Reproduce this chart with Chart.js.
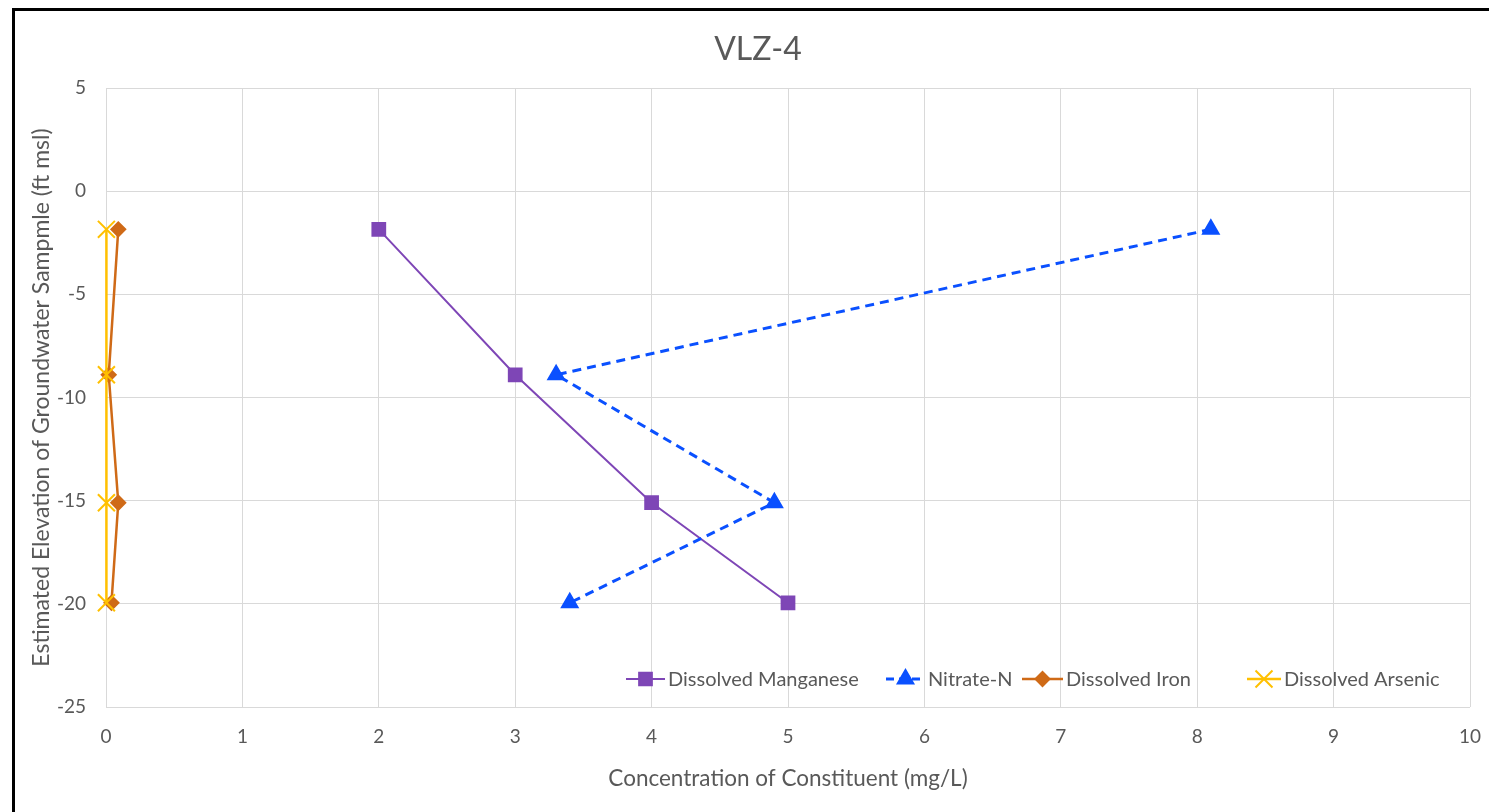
<!DOCTYPE html>
<html>
<head>
<meta charset="utf-8">
<title>VLZ-4</title>
<script src="https://cdn.jsdelivr.net/npm/chart.js@4.4.1/dist/chart.umd.min.js"></script>
<style>
  html,body{margin:0;padding:0;background:#fff;overflow:hidden;}
  #wrap{position:relative;width:1489px;height:812px;}
  #frame{position:absolute;left:12px;top:8px;width:2000px;height:2000px;border:3px solid #000;box-sizing:border-box;pointer-events:none;}
  canvas{position:absolute;left:0;top:0;}
</style>
</head>
<body>
<div id="wrap">
  <canvas id="chartVLZ" width="1489" height="812"></canvas>
  <div id="frame"></div>
</div>
<script>
// Datos (elevacion en ft msl, concentracion en mg/L)
const elevaciones = [-1.85, -8.9, -15.1, -19.95];
const manganeso = [2, 3, 4, 5];
const nitrato = [8.1, 3.3, 4.9, 3.4];
const hierro = [0.09, 0.02, 0.09, 0.04];
const arsenico = [0.003, 0.003, 0.003, 0.003];
const xTicks = [0,1,2,3,4,5,6,7,8,9,10];
const yTicks = [5,0,-5,-10,-15,-20,-25];

const FONT = 'Lato, "Open Sans", sans-serif';
const GRIS = '#595959';

function puntos(xs){ return xs.map((x,i)=>({x:x,y:elevaciones[i]})); }

// order: el menor se dibuja encima (arsenico sobre hierro, como en Excel)
const series = [
  {label:'Dissolved Manganese', data:puntos(manganeso), color:'#7E46B6', style:'rect', radius:9, width:2, dash:[], order:3},
  {label:'Nitrate-N', data:puntos(nitrato), color:'#0A50FF', style:'triangle', radius:9, width:3, dash:[9,6], order:2},
  {label:'Dissolved Iron', data:puntos(hierro), color:'#CF6A17', style:'rectRot', radius:7, width:2.5, dash:[], order:1},
  {label:'Dissolved Arsenic', data:puntos(arsenico), color:'#FFC000', style:'crossRot', radius:12, width:2.5, dash:[], order:0}
];

// posiciones de la leyenda (linea corta + marcador, como Excel)
const leyendaX = [[626,665],[886,925],[1022,1063],[1247,1281]];

const ctx = document.getElementById('chartVLZ');
new Chart(ctx,{
  type:'scatter',
  data:{
    datasets: series.map(s=>({
      label:s.label,
      data:s.data,
      order:s.order,
      showLine:true,
      clip:false,
      borderColor:s.color,
      backgroundColor:s.color,
      borderWidth:s.width,
      borderDash:s.dash,
      pointStyle:s.style,
      pointRadius:s.radius,
      pointBorderWidth:2,
      pointBorderColor:s.color,
      pointBackgroundColor:s.color,
      tension:0
    }))
  },
  options:{
    responsive:false,
    animation:false,
    layout:{padding:{top:88,right:19,left:0,bottom:0}},
    plugins:{legend:{display:false},title:{display:false},tooltip:{enabled:false}},
    scales:{
      x:{
        type:'linear', min:0, max:10,
        afterFit(s){ s.height = 105; s.paddingLeft = 0; s.paddingRight = 0; },
        afterBuildTicks(s){ s.ticks = xTicks.map(v=>({value:v})); },
        grid:{color:'#d9d9d9', lineWidth:1, drawTicks:false},
        border:{display:false},
        ticks:{color:GRIS, font:{family:FONT,size:19}, padding:18},
        title:{display:true, text:'Concentration of Constituent (mg/L)', color:GRIS, font:{family:FONT,size:22.5}, padding:{bottom:20}}
      },
      y:{
        type:'linear', min:-25, max:5,
        afterFit(s){ s.width = 106; s.paddingTop = 0; s.paddingBottom = 0; },
        afterBuildTicks(s){ s.ticks = yTicks.map(v=>({value:v})); },
        grid:{color:'#d9d9d9', lineWidth:1, drawTicks:false},
        border:{display:false},
        ticks:{color:GRIS, font:{family:FONT,size:19}, padding:20},
        title:{display:true, text:'Estimated Elevation of Groundwater Sampmle (ft msl)', color:GRIS, font:{family:FONT,size:23}, padding:{top:28}}
      }
    }
  },
  plugins:[{
    id:'leyendaExcel',
    afterDraw(chart){
      const c = chart.ctx;
      c.save();
      c.fillStyle = GRIS;
      c.font = '32px ' + FONT;
      c.textAlign = 'center';
      c.textBaseline = 'middle';
      c.fillText('VLZ-4', 758, 50);
      const y = 679;
      c.font = '20px ' + FONT;
      c.textAlign = 'left';
      series.forEach((s,i)=>{
        const [x0,x1] = leyendaX[i];
        c.strokeStyle = s.color;
        c.fillStyle = s.color;
        c.lineWidth = s.width;
        c.setLineDash(s.dash.length ? [8,5] : []);
        c.beginPath(); c.moveTo(x0,y); c.lineTo(x1,y); c.stroke();
        c.setLineDash([]);
        c.lineWidth = 2;
        Chart.helpers.drawPoint(c,{pointStyle:s.style,radius:s.radius,borderWidth:2,rotation:0},(x0+x1)/2,y);
        c.fillStyle = GRIS;
        c.fillText(s.label, x1+3, y+1);
      });
      c.restore();
    }
  }]
});
</script>
</body>
</html>
